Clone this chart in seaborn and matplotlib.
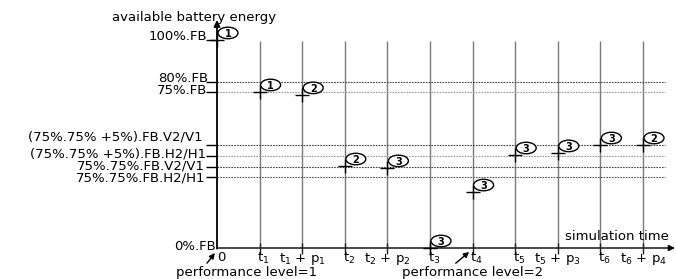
import matplotlib
matplotlib.use("Agg")
import matplotlib.pyplot as plt
from matplotlib.patches import Ellipse
import seaborn as sns
import pandas as pd

# ---- data ----
x_positions = [0, 1, 2, 3, 4, 5, 6, 7, 8, 9, 10]
x_tick_labels = ["0", r"t$_1$", r"t$_1$ + p$_1$", r"t$_2$", r"t$_2$ + p$_2$", r"t$_3$",
                 r"t$_4$", r"t$_5$", r"t$_5$ + p$_3$", r"t$_6$", r"t$_6$ + p$_4$"]
energy = [100, 75, 73.6, 39.4, 38.5, 0, 26.9, 44.7, 45.7, 49.5, 49.5]
perf_level = [1, 1, 2, 2, 3, 3, 3, 3, 3, 3, 2]

y_levels = [100, 80, 75, 49.5, 44.2, 38.9, 34.1, 0]
y_labels = ["100%.FB", "80%.FB", "75%.FB", "(75%.75% +5%).FB.V2/V1",
            "(75%.75% +5%).FB.H2/H1", "75%.75%.FB.V2/V1", "75%.75%.FB.H2/H1", "0%.FB"]
dashed_levels = [80, 75, 49.5, 44.2, 38.9, 34.1]
dashed_colors = ["#444444", "#9a9a9a", "#444444", "#9a9a9a", "#444444", "#555555"]

df = pd.DataFrame({"t": x_positions, "energy": energy, "level": perf_level})

sns.set_theme(style="white")
plt.rcParams["font.family"] = ["DejaVu Sans"]
plt.rcParams["mathtext.fontset"] = "dejavusans"
plt.rcParams["text.color"] = "black"

PX_X = 42.6   # pixels per x unit
PX_Y = 2.08   # pixels per y unit

fig = plt.figure(figsize=(6.76, 2.79), dpi=100)
ax = fig.add_axes([0, 0, 1, 1])

FS = 9.5

# vertical grid lines
ax.vlines(x_positions[1:], 0, 99.5, color="#7a7a7a", lw=1.0, zorder=1)
# horizontal dotted reference lines
for lv, c in zip(dashed_levels, dashed_colors):
    ax.hlines(lv, 0, 10.52, color=c, lw=0.8, linestyles=(0, (1.5, 1.0)), zorder=1)

# axes with arrows
ax.annotate("", xy=(0, 109.6), xytext=(0, -0.3),
            arrowprops=dict(arrowstyle="-|>", color="black", lw=1.3,
                            mutation_scale=9, shrinkA=0, shrinkB=0))
ax.annotate("", xy=(10.75, 0), xytext=(0, 0),
            arrowprops=dict(arrowstyle="-|>", color="black", lw=1.0,
                            mutation_scale=9, shrinkA=0, shrinkB=0))

# x tick marks and labels
ax.vlines(x_positions[1:], -2.9, 2.4, color="#222222", lw=1.0, zorder=3)
for xp, lab in zip(x_positions, x_tick_labels):
    dx = 0 if "+" in lab else 4
    ax.annotate(lab, xy=(xp, 0), xytext=(dx, -3), textcoords="offset pixels",
                ha="center", va="top", fontsize=FS, color="black")

# y tick marks and labels
y_offsets = [(-10, 3), (-9, 3.5), (-10, 1), (-14, 8), (-11, 2), (-12, 1), (-12, -1), (-1, 2)]
for lv, lab, (dx, dy) in zip(y_levels, y_labels, y_offsets):
    if lv > 0:
        ax.hlines(lv, -11 / PX_X, 0, color="black", lw=1.0)
    ax.annotate(lab, xy=(0, lv), xytext=(dx, dy), textcoords="offset pixels",
                ha="right", va="center", fontsize=FS, color="black")

# data points
sns.scatterplot(data=df, x="t", y="energy", marker="+", s=100, color="black",
                linewidth=1.0, ax=ax, zorder=4, legend=False)

# circled performance levels
for xp, yv, lv in zip(df["t"], df["energy"], df["level"]):
    cx = xp + 11 / PX_X
    cy = yv + 7 / PX_Y
    ax.add_patch(Ellipse((cx, cy), 20 / PX_X, 11.5 / PX_Y, fc="white", ec="black",
                         lw=1.0, zorder=5))
    ax.text(cx, cy, str(lv), ha="center", va="center_baseline", fontsize=7,
            fontweight="bold", color="black", zorder=6)

# axis titles
ax.text(-0.54, 111, "available battery energy", ha="center", va="center", fontsize=FS)
ax.text(8.17, 5.3, "simulation time", ha="left", va="center", fontsize=FS)

# performance level annotations
ax.annotate("performance level=1", xy=(-0.05, -2.4), xytext=(0.70, -12.0),
            ha="center", va="center", fontsize=FS,
            arrowprops=dict(arrowstyle="-|>", color="black", lw=1.0, mutation_scale=8,
                            shrinkA=0, shrinkB=0, relpos=(0.2, 1.0)))
ax.annotate("performance level=2", xy=(5.92, -1.9), xytext=(6.01, -12.0),
            ha="center", va="center", fontsize=FS,
            arrowprops=dict(arrowstyle="-|>", color="black", lw=1.0, mutation_scale=8,
                            shrinkA=0, shrinkB=0, relpos=(0.35, 1.0)))

ax.set_xlim(-5.094, 10.775)
ax.set_ylim(-14.9, 119.2)
ax.axis("off")

fig.savefig("out.png", dpi=100)
